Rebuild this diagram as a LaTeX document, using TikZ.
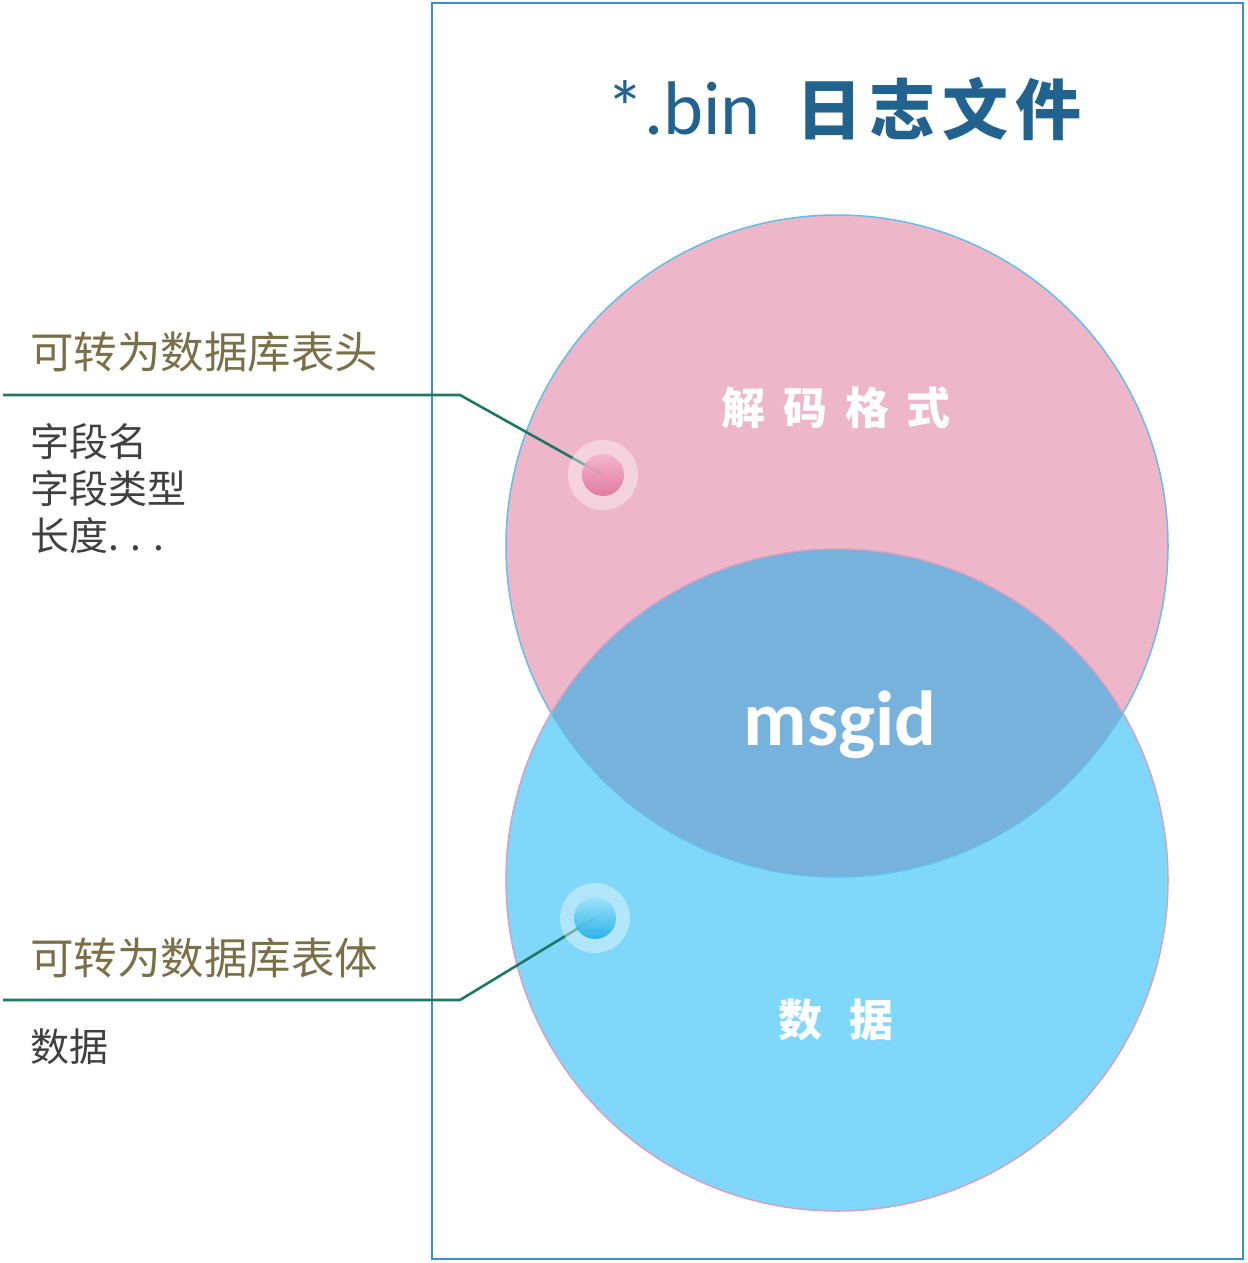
\documentclass[tikz,border=0pt]{standalone}
\usepackage{fontspec}
\usepackage{xcolor}
\usepackage{tikz}
\usetikzlibrary{positioning}
\setmainfont{Carlito}
\newfontfamily\cjk{Noto Sans CJK SC}

\definecolor{framecol}{RGB}{61,143,202}
\definecolor{pinkfill}{RGB}{237,182,201}
\definecolor{bluefill}{RGB}{127,215,249}
\definecolor{midfill}{RGB}{119,178,220}
\definecolor{pinkline}{RGB}{212,160,196}
\definecolor{blueline}{RGB}{100,190,232}
\definecolor{titlecol}{RGB}{33,98,142}
\definecolor{headcol}{RGB}{122,112,72}
\definecolor{bodycol}{RGB}{64,64,64}
\definecolor{leadcol}{RGB}{30,120,100}

\begin{document}
\begin{tikzpicture}[
  x=1pt, y=-1pt,
  venn/.style={
    circle,
    minimum size=662pt,
    inner sep=0pt,
    line width=1.5pt
  },
  halo/.style={
    circle,
    minimum size=70pt,
    inner sep=0pt,
    fill=white,
    fill opacity=0.4
  },
  dot/.style={
    circle,
    minimum size=42pt,
    inner sep=0pt,
    opacity=0.88,
    shading angle=35
  },
  leader/.style={
    draw=leadcol,
    line width=2.6pt
  },
  headtext/.style={
    anchor=west,
    inner sep=0pt,
    text=headcol,
    font=\cjk\fontsize{43.5}{50}\selectfont
  },
  bodytext/.style={
    anchor=north west,
    inner sep=0pt,
    align=left,
    text=bodycol,
    font=\cjk\fontsize{39}{47}\selectfont
  },
  inlabel/.style={
    text=white,
    inner sep=0pt,
    font=\cjk\bfseries\fontsize{44}{48}\selectfont
  }
]
\useasboundingbox (0,0) rectangle (1247,1263);

% Outer frame
\draw[draw=framecol, line width=2pt] (432,3) rectangle (1243,1259);

% Title
\node[anchor=base west, inner sep=0pt, text=titlecol] (title) at (606,134)
{\fontsize{76}{80}\selectfont *.bin\hspace{36pt}{\cjk\bfseries\fontsize{66}{70}\selectfont
日\hspace{7pt}志\hspace{7pt}文\hspace{7pt}件}};

% Two circles
\node[venn, fill=pinkfill] (decode) at (837,546) {};
\node[venn, fill=bluefill] (payload) at (837,880) {};

% Overlap
\begin{scope}
  \clip (837,546) circle (331);
  \fill[midfill] (837,880) circle (331);
\end{scope}
\draw[blueline, line width=1.5pt] (decode.center) circle (331);
\draw[pinkline, line width=1.5pt] (payload.center) circle (331);

% Circle labels
\node[inlabel] (decodelbl) at (836,408) {解\hspace{18pt}码\hspace{18pt}格\hspace{18pt}式};
\node[inlabel, anchor=base, font=\bfseries\fontsize{78}{80}\selectfont] (msgid) at (840,745) {msgid};
\node[inlabel] (payloadlbl) at (836,1020) {数\hspace{28pt}据};

% Left notes
\node[headtext] (headnote) at (30,352) {可转为数据库表头};
\node[bodytext] (headbody) at (30,423) {字段名\\字段类型\\长度. . .};

\node[headtext] (bodynote) at (30,958) {可转为数据库表体};
\node[bodytext] (bodybody) at (30,1028) {数据};

% Leader lines
\coordinate (headstart) at (3,395);
\coordinate (headbend) at (460,395);
\coordinate (headpos) at (603,475);
\draw[leader] (headstart) -- (headbend) -- (headpos);

\coordinate (bodystart) at (3,1000);
\coordinate (bodybend) at (460,1000);
\coordinate (bodypos) at (595,918);
\draw[leader] (bodystart) -- (bodybend) -- (bodypos);

% Markers
\node[halo] (headhalo) at (headpos) {};
\node[dot, top color={rgb,255:red,244;green,178;blue,204}, bottom color={rgb,255:red,222;green,112;blue,152}] (headdot) at (headpos) {};

\node[halo] (bodyhalo) at (bodypos) {};
\node[dot, top color={rgb,255:red,160;green,226;blue,250}, bottom color={rgb,255:red,24;green,172;blue,232}] (bodydot) at (bodypos) {};

\end{tikzpicture}
\end{document}
